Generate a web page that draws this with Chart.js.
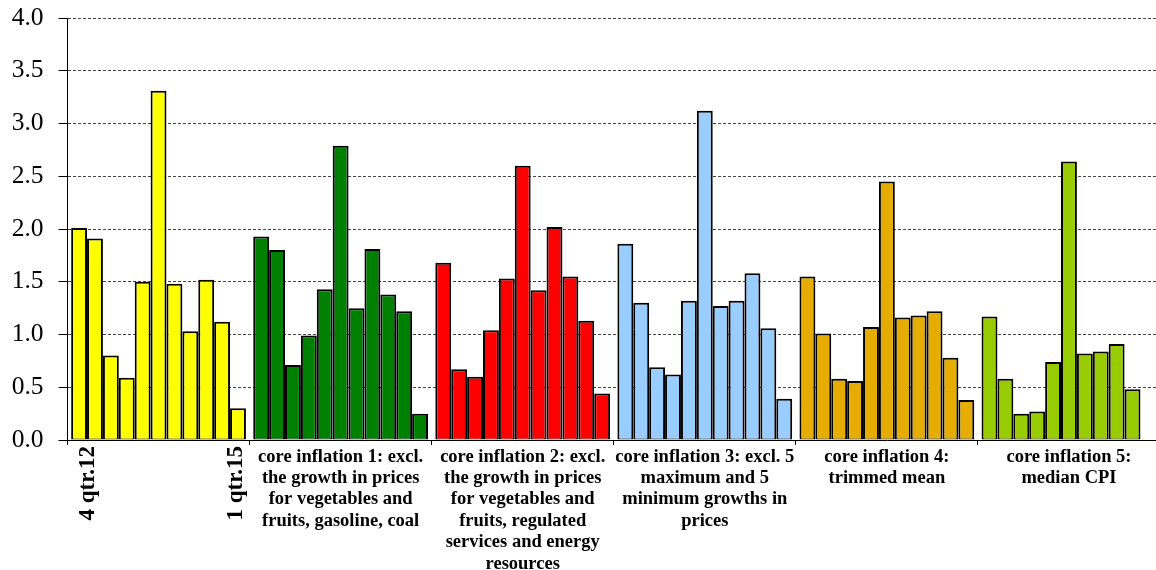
<!DOCTYPE html>
<html>
<head>
<meta charset="utf-8">
<script src="https://cdn.jsdelivr.net/npm/chart.js@4.4.1/dist/chart.umd.min.js"></script>
<style>
  html, body { margin: 0; padding: 0; background: #fff; overflow: hidden; }
  #wrap { width: 1160px; height: 570px; position: relative; }
</style>
</head>
<body>
<div id="wrap"><canvas id="coreChart"></canvas></div>
<script>
// quarters, 4 qtr.12 .. 1 qtr.15
const quarters = ['4 qtr.12', '1 qtr.13', '2 qtr.13', '3 qtr.13', '4 qtr.13', '1 qtr.14',
                  '2 qtr.14', '3 qtr.14', '4 qtr.14', '1 qtr.15', '2 qtr.15'];

const groupLabels = [
    [''],
    ['core inflation 1: excl.', 'the growth in prices', 'for vegetables and', 'fruits, gasoline, coal'],
    ['core inflation 2: excl.', 'the growth in prices', 'for vegetables and', 'fruits, regulated', 'services and energy', 'resources'],
    ['core inflation 3: excl. 5', 'maximum and 5', 'minimum growths in', 'prices'],
    ['core inflation 4:', 'trimmed mean'],
    ['core inflation 5:', 'median CPI']
];

const headline = [2.01, 1.91, 0.80, 0.59, 1.50, 3.31, 1.48, 1.03, 1.52, 1.12, 0.30];
const core1    = [1.93, 1.80, 0.71, 0.99, 1.43, 2.79, 1.25, 1.81, 1.38, 1.22, 0.25];
const core2    = [1.68, 0.67, 0.60, 1.04, 1.53, 2.60, 1.42, 2.02, 1.55, 1.13, 0.44];
const core3    = [1.86, 1.30, 0.69, 0.62, 1.32, 3.12, 1.27, 1.32, 1.58, 1.06, 0.39];
const core4    = [1.55, 1.01, 0.58, 0.56, 1.07, 2.45, 1.16, 1.18, 1.22, 0.78, 0.38];
const core5    = [1.17, 0.58, 0.25, 0.27, 0.74, 2.64, 0.82, 0.84, 0.91, 0.48, null];

const groupColors = ['#FFFF00', '#008000', '#FF0000', '#99CCFF', '#E6AC00', '#99CC00'];

// rotated labels under the first group
const edgeLabels = ['4 qtr.12', '1 qtr.15'];

const series = [headline, core1, core2, core3, core4, core5];

const datasets = quarters.map((q, i) => ({
    label: q,
    data: series.map(s => s[i]),
    backgroundColor: groupColors,
    borderColor: '#000',
    borderWidth: {top: 2, left: 2, right: 2, bottom: 1},
    borderSkipped: false,
    categoryPercentage: 0.96,
    barPercentage: 1
}));

const serif = "'Liberation Serif', 'Times New Roman', serif";

const edgeLabelPlugin = {
    id: 'edgeLabels',
    afterDraw(chart) {
        const ctx = chart.ctx;
        const first = chart.getDatasetMeta(0).data[0];
        const last = chart.getDatasetMeta(quarters.length - 1).data[0];
        const top = chart.chartArea.bottom + 6;
        ctx.save();
        ctx.fillStyle = '#000';
        ctx.font = 'bold 23px ' + serif;
        ctx.textAlign = 'right';
        ctx.textBaseline = 'middle';
        [[first.x + 8.5, edgeLabels[0]], [last.x - 2, edgeLabels[1]]].forEach(([x, t]) => {
            ctx.save();
            ctx.translate(x, top);
            ctx.rotate(-Math.PI / 2);
            ctx.fillText(t, 0, 0);
            ctx.restore();
        });
        ctx.restore();
    }
};

new Chart(document.getElementById('coreChart'), {
    type: 'bar',
    data: {
        labels: groupLabels,
        datasets: datasets
    },
    options: {
        responsive: true,
        maintainAspectRatio: false,
        animation: false,
        layout: {padding: {top: 18, left: 0, right: 0, bottom: 0}},
        plugins: {
            legend: {display: false},
            tooltip: {enabled: false}
        },
        scales: {
            x: {
                offset: true,
                grid: {
                    offset: true,
                    drawOnChartArea: false,
                    drawTicks: true,
                    tickLength: 5,
                    tickColor: '#000',
                    tickWidth: 1
                },
                border: {display: true, color: '#000', width: 1},
                ticks: {
                    autoSkip: false,
                    maxRotation: 0,
                    minRotation: 0,
                    padding: 1,
                    color: '#000',
                    font: {family: serif, size: 18.5, weight: 'bold', lineHeight: 1.16}
                },
                afterFit(scale) {
                    scale.height = 130;
                    scale.paddingLeft = 0;
                    scale.paddingRight = 0;
                }
            },
            y: {
                min: 0,
                max: 4,
                ticks: {
                    stepSize: 0.5,
                    padding: 15,
                    color: '#000',
                    font: {family: serif, size: 25.5},
                    callback: v => v.toFixed(1)
                },
                grid: {
                    color: '#444',
                    lineWidth: 1,
                    tickLength: 9,
                    tickColor: '#000',
                    tickWidth: 1
                },
                border: {display: true, color: '#000', width: 1, dash: [3, 2]},
                afterFit(scale) {
                    scale.width = 67.5;
                    scale.paddingTop = 0;
                    scale.paddingBottom = 0;
                }
            }
        }
    },
    plugins: [edgeLabelPlugin]
});
</script>
</body>
</html>
